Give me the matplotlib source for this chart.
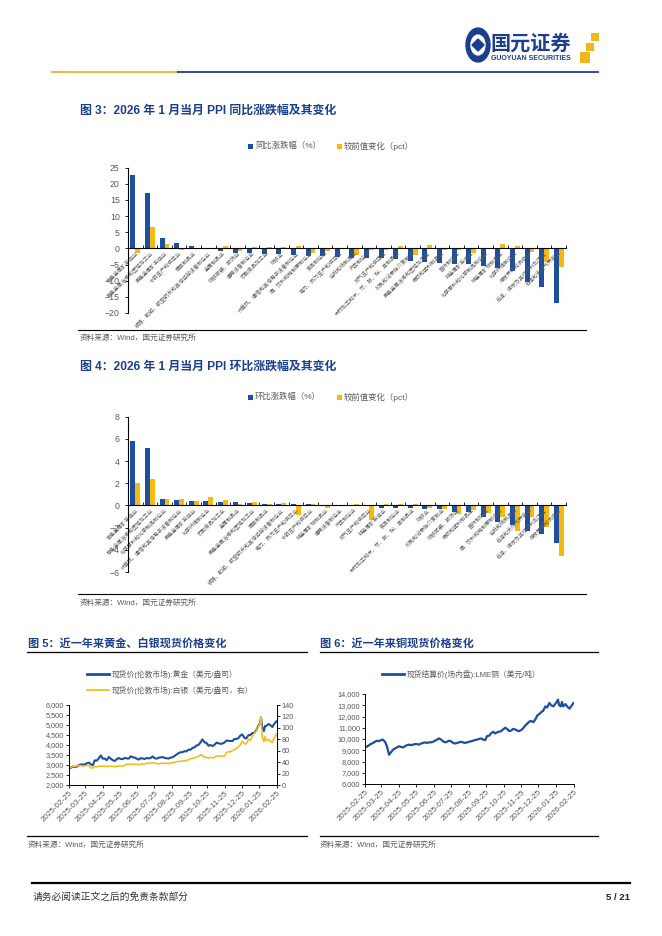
import numpy as np
import pandas as pd
import matplotlib
matplotlib.use('Agg')
import matplotlib.pyplot as plt
from matplotlib.patches import Rectangle, Circle, Polygon
from matplotlib.lines import Line2D
from matplotlib.ticker import FuncFormatter

plt.rcParams['font.family'] = ['Liberation Sans', 'Noto Sans CJK SC', 'DejaVu Sans']

# ---- fig 3: PPI yoy by industry, Jan 2026 ----
yoy_cats = ['有色金属矿采选业', '有色金属冶炼和压延加工业', '黑色金属矿采选业', '水的生产和供应业',
            '烟草制品业', '铁路、船舶、航空航天和其他运输设备制造业', '金属制品业', '纺织服装、服饰业',
            '通用设备制造业', '农副食品加工业', '纺织业', '计算机、通信和其他电子设备制造业',
            '酒、饮料和精制茶制造业', '食品制造业', '电力、热力生产和供应业', '造纸和纸制品业',
            '汽车制造业', '燃气生产和供应业', '木材加工和木、竹、藤、棕、草制品业', '印刷和记录媒介复制业',
            '黑色金属冶炼和压延加工业', '橡胶和塑料制品业', '医药制造业', '非金属矿采选业',
            '化学原料和化学制品制造业', '非金属矿物制品业', '化学纤维制造业', '煤炭开采和洗选业',
            '石油、煤炭及其他燃料加工业', '石油和天然气开采业']
yoy = [22.7, 17.2, 3.2, 1.6, 0.7, -0.3, -0.7, -1.5, -1.5, -1.8, -1.8, -1.9, -2.2, -2.5, -2.6,
       -2.9, -3.0, -3.1, -3.2, -3.9, -4.2, -4.4, -4.8, -4.9, -5.3, -6.0, -6.9, -10.3, -11.8, -17.0]
yoy_chg = [-1.4, 6.5, 1.3, -0.6, 0.0, 0.0, 0.6, -0.7, 0.3, 0.3, 0.3, 0.6, -1.4, -0.7, -0.3,
           -2.0, -0.6, -0.6, 0.6, -2.0, 1.0, -0.4, -0.5, -1.4, 0.0, 1.5, 0.6, -1.0, -4.1, -5.6]

# ---- fig 4: PPI mom by industry, Jan 2026 ----
mom_cats = ['有色金属矿采选业', '有色金属冶炼和压延加工业', '化学原料和化学制品制造业',
            '计算机、通信和其他电子设备制造业', '黑色金属矿采选业', '化学纤维制造业', '农副食品加工业',
            '金属制品业', '黑色金属冶炼和压延加工业', '烟草制品业', '铁路、船舶、航空航天和其他运输设备制造业',
            '电力、热力生产和供应业', '水的生产和供应业', '非金属矿物制品业', '通用设备制造业', '汽车制造业',
            '燃气生产和供应业', '非金属矿采选业', '食品制造业', '木材加工和木、竹、藤、棕、草制品业', '纺织业',
            '印刷和记录媒介复制业', '纺织服装、服饰业', '橡胶和塑料制品业', '医药制造业',
            '酒、饮料和精制茶制造业', '造纸和纸制品业', '石油和天然气开采业', '石油、煤炭及其他燃料加工业',
            '煤炭开采和洗选业']
mom = [5.8, 5.2, 0.6, 0.5, 0.4, 0.4, 0.3, 0.3, 0.2, 0.1, 0.1, 0.1, 0.1, 0.0, 0.0,
       0.0, 0.0, -0.2, -0.2, -0.2, -0.3, -0.3, -0.6, -0.6, -1.0, -1.5, -1.8, -2.3, -2.6, -3.4]
mom_chg = [2.0, 2.4, 0.6, 0.6, 0.4, 0.8, 0.5, 0.1, 0.3, 0.1, 0.2, -0.9, 0.1, -0.2, 0.0,
           0.1, -1.3, 0.1, 0.1, 0.1, -0.2, -0.3, -0.8, -0.4, -0.7, -1.0, -2.3, -1.0, -1.9, -4.6]

# ---- fig 5 / fig 6: spot prices, sampled twice a week ----
dates = [
    '2025-02-25', '2025-02-28',
    '2025-03-04', '2025-03-07', '2025-03-11', '2025-03-14', '2025-03-18', '2025-03-21', '2025-03-25', '2025-03-28',
    '2025-04-01', '2025-04-04', '2025-04-08', '2025-04-11', '2025-04-15', '2025-04-18', '2025-04-22', '2025-04-25', '2025-04-29',
    '2025-05-02', '2025-05-06', '2025-05-09', '2025-05-13', '2025-05-16', '2025-05-20', '2025-05-23', '2025-05-27', '2025-05-30',
    '2025-06-03', '2025-06-06', '2025-06-10', '2025-06-13', '2025-06-17', '2025-06-20', '2025-06-24', '2025-06-27',
    '2025-07-01', '2025-07-04', '2025-07-08', '2025-07-11', '2025-07-15', '2025-07-18', '2025-07-22', '2025-07-25', '2025-07-29',
    '2025-08-01', '2025-08-05', '2025-08-08', '2025-08-12', '2025-08-15', '2025-08-19', '2025-08-22', '2025-08-26', '2025-08-29',
    '2025-09-02', '2025-09-05', '2025-09-09', '2025-09-12', '2025-09-16', '2025-09-19', '2025-09-23', '2025-09-26', '2025-09-30',
    '2025-10-03', '2025-10-07', '2025-10-10', '2025-10-14', '2025-10-17', '2025-10-21', '2025-10-24', '2025-10-28', '2025-10-31',
    '2025-11-04', '2025-11-07', '2025-11-11', '2025-11-14', '2025-11-18', '2025-11-21', '2025-11-25', '2025-11-28',
    '2025-12-02', '2025-12-05', '2025-12-09', '2025-12-12', '2025-12-16', '2025-12-19', '2025-12-23', '2025-12-26', '2025-12-30',
    '2026-01-02', '2026-01-06', '2026-01-09', '2026-01-13', '2026-01-16', '2026-01-20', '2026-01-23', '2026-01-26', '2026-01-28', '2026-01-30',
    '2026-02-02', '2026-02-04', '2026-02-06', '2026-02-10', '2026-02-13', '2026-02-17', '2026-02-20', '2026-02-24']

gold = [2915, 2860,
        2915, 2905, 2920, 2985, 3030, 3020, 3020, 3085,
        3120, 3040, 2985, 3230, 3220, 3330, 3480, 3320, 3320,
        3240, 3400, 3320, 3240, 3200, 3290, 3350, 3300, 3290,
        3360, 3330, 3320, 3430, 3390, 3370, 3320, 3270,
        3340, 3330, 3300, 3350, 3330, 3350, 3430, 3340, 3320,
        3360, 3380, 3400, 3350, 3340, 3320, 3370, 3390, 3450,
        3530, 3590, 3640, 3640, 3690, 3680, 3770, 3760, 3860,
        3880, 3980, 4000, 4140, 4280, 4130, 4110, 3960, 4000,
        3950, 4000, 4120, 4090, 4060, 4070, 4130, 4220,
        4210, 4200, 4200, 4300, 4300, 4340, 4480, 4530, 4350,
        4330, 4490, 4500, 4600, 4600, 4750, 4950, 5080, 5380, 4900,
        4700, 4950, 4950, 5050, 5000, 4900, 5050, 5180]

silver = [31.8, 31.0,
          32.3, 32.6, 33.0, 33.9, 34.0, 33.0, 33.5, 34.4,
          34.0, 30.0, 29.8, 32.0, 32.3, 32.5, 33.0, 33.2, 33.0,
          32.0, 33.2, 32.7, 32.9, 32.3, 32.5, 33.4, 33.2, 33.0,
          34.5, 36.0, 36.5, 36.3, 36.5, 36.0, 35.8, 36.0,
          36.1, 36.9, 36.8, 38.1, 37.8, 38.2, 39.3, 38.0, 38.0,
          36.9, 37.8, 38.3, 37.7, 38.0, 37.4, 38.8, 38.7, 39.8,
          40.9, 41.2, 41.3, 42.3, 42.5, 43.0, 44.0, 46.0, 46.5,
          47.5, 48.5, 50.0, 52.5, 52.0, 48.0, 48.5, 47.0, 48.5,
          47.5, 48.3, 51.0, 50.5, 51.0, 50.0, 51.0, 56.0,
          58.5, 58.0, 60.5, 62.0, 64.0, 67.0, 70.5, 77.0, 72.0,
          72.0, 80.0, 78.0, 86.0, 90.0, 95.0, 102.0, 108.0, 119.0, 85.0,
          76.0, 85.0, 77.0, 80.0, 77.0, 74.0, 82.0, 89.0]

copper = [9350, 9300,
          9450, 9550, 9650, 9750, 9850, 9800, 9900, 9950,
          9750, 9400, 8600, 8800, 9050, 9150, 9250, 9350, 9300,
          9250, 9350, 9450, 9500, 9450, 9500, 9550, 9550, 9500,
          9600, 9650, 9700, 9650, 9700, 9700, 9750, 9850,
          9950, 10050, 9950, 9800, 9700, 9750, 9850, 9800, 9650,
          9600, 9650, 9700, 9750, 9700, 9650, 9700, 9750, 9800,
          9850, 9900, 9950, 10000, 10050, 9950, 9900, 10250, 10300,
          10500, 10650, 10500, 10600, 10650, 10700, 10850, 11000, 10900,
          10700, 10750, 10900, 10850, 10750, 10700, 10800, 10950,
          11200, 11350, 11550, 11600, 11500, 11700, 12100, 12200, 12400,
          12500, 12900, 12800, 13200, 13000, 12900, 13100, 13300, 13500, 13000,
          12900, 13300, 12900, 13100, 12900, 12700, 12900, 13200]

date_ticks = ['2025-02-25', '2025-03-25', '2025-04-25', '2025-05-25', '2025-06-25', '2025-07-25',
              '2025-08-25', '2025-09-25', '2025-10-25', '2025-11-25', '2025-12-25', '2026-01-25', '2026-02-25']

W, H = 662, 936
BLUE = '#1d4f9f'
YELLOW = '#f6b90c'
NAVY = '#1b3f8f'
GRAY = '#595959'

fig = plt.figure(figsize=(W / 100, H / 100), dpi=100)


def box(x0, y0, x1, y1):
    # pixel box (top-left origin) -> figure fraction
    return [x0 / W, 1 - y1 / H, (x1 - x0) / W, (y1 - y0) / H]


def txt(x, y, s, **kw):
    kw.setdefault('va', 'center')
    fig.text(x / W, 1 - y / H, s, **kw)


def hline(x0, x1, y, color='black', lw=0.8):
    fig.add_artist(Line2D([x0 / W, x1 / W], [1 - y / H, 1 - y / H], color=color, lw=lw))


def rect(x, y, w, h, color):
    fig.add_artist(Rectangle((x / W, 1 - (y + h) / H), w / W, h / H, color=color,
                             transform=fig.transFigure, lw=0))


# ---- header ----
hline(52, 178, 72, '#f0b323', 1.3)
hline(178, 598, 72, NAVY, 1.3)
fig.add_artist(Circle((478 / W, 1 - 45 / H), 12 / W, color=NAVY, transform=fig.transFigure))
fig.add_artist(Circle((478 / W, 1 - 45 / H), 7 / W, color='white', transform=fig.transFigure))
fig.add_artist(Polygon([(478 / W, 1 - 39 / H), (484 / W, 1 - 45 / H), (478 / W, 1 - 51 / H),
                        (472 / W, 1 - 45 / H)], color=NAVY, transform=fig.transFigure))
txt(490, 43, '国元证券', fontsize=14.5, fontweight='bold', color=NAVY, family=['Noto Sans CJK SC'])
txt(491, 58, 'GUOYUAN SECURITIES', fontsize=5, fontweight='bold', color=NAVY)
rect(591, 33, 8, 8, '#f2b51c')
rect(586, 43, 8, 8, '#f2b51c')
rect(580, 52, 10, 11, '#f2b51c')


def legend_box(x, y, label, color):
    rect(x, y - 2.5, 5, 5, color)
    txt(x + 7, y, label, fontsize=6, color=GRAY)


def bar_chart(px, cats, v1, v2, lo, hi, step):
    ax = fig.add_axes(box(*px))
    x = np.arange(len(cats))
    ax.bar(x - 0.17, v1, 0.34, color=BLUE, lw=0)
    ax.bar(x + 0.17, v2, 0.34, color=YELLOW, lw=0)
    ax.set_xlim(-0.5, len(cats) - 0.5)
    ax.set_ylim(lo, hi)
    ax.set_yticks(np.arange(lo, hi + 0.01, step))
    ax.spines['bottom'].set_position(('data', 0))
    ax.spines[['top', 'right']].set_visible(False)
    for s in ['left', 'bottom']:
        ax.spines[s].set_linewidth(0.8)
    ax.set_xticks(x)
    ax.set_xticklabels(cats, rotation=45, ha='right', va='top', rotation_mode='anchor',
                       fontsize=3.8, color=GRAY)
    ax.set_xticks(np.arange(-0.5, len(cats)), minor=True)
    ax.tick_params(axis='x', which='major', length=0, pad=1.5)
    ax.tick_params(axis='x', which='minor', length=2, width=0.6, direction='in')
    ax.tick_params(axis='y', labelsize=6.3, labelcolor=GRAY, length=2.5, width=0.6)
    ax.patch.set_alpha(0)
    return ax


# ---- fig 3 ----
txt(80, 111, '图 3：2026 年 1 月当月 PPI 同比涨跌幅及其变化', fontsize=8.6, fontweight='bold', color=NAVY)
legend_box(248, 146, '同比涨跌幅（%）', BLUE)
legend_box(337, 146, '较前值变化（pct）', YELLOW)
bar_chart((128, 167.7, 566, 313), yoy_cats, yoy, yoy_chg, -20, 25, 5)
hline(78, 586, 330, 'black', 0.8)
txt(80, 338, '资料来源：Wind，国元证券研究所', fontsize=5.5, color=GRAY)

# ---- fig 4 ----
txt(80, 367, '图 4：2026 年 1 月当月 PPI 环比涨跌幅及其变化', fontsize=8.6, fontweight='bold', color=NAVY)
legend_box(248, 397, '环比涨跌幅（%）', BLUE)
legend_box(337, 397, '较前值变化（pct）', YELLOW)
bar_chart((128, 416.7, 566, 572), mom_cats, mom, mom_chg, -6, 8, 2)
hline(78, 586, 594, 'black', 0.8)
txt(80, 603, '资料来源：Wind，国元证券研究所', fontsize=5.5, color=GRAY)

# ---- fig 5 / 6 shared bits ----
d = pd.to_datetime(dates)
ticks = pd.to_datetime(date_ticks)
thousands = FuncFormatter(lambda v, p: f'{v:,.0f}')


def date_axis(ax):
    ax.set_xlim(ticks[0], ticks[-1])
    ax.set_xticks(ticks)
    ax.set_xticklabels([t.strftime('%Y-%m-%d') for t in ticks], rotation=45, ha='right',
                       va='top', rotation_mode='anchor', fontsize=5.8, color=GRAY)
    ax.tick_params(axis='x', length=2, width=0.6, pad=1.5)


txt(28, 643, '图 5：近一年来黄金、白银现货价格变化', fontsize=8, fontweight='bold', color=NAVY)
hline(27, 307, 652, 'black', 0.9)
txt(320, 643, '图 6：近一年来铜现货价格变化', fontsize=8, fontweight='bold', color=NAVY)
hline(320, 598, 652, 'black', 0.9)

fig.add_artist(Line2D([87 / W, 109 / W], [1 - 674 / H] * 2, color=BLUE, lw=2))
txt(112, 674, '现货价(伦敦市场):黄金（美元/盎司）', fontsize=5.6, color=GRAY)
fig.add_artist(Line2D([87 / W, 109 / W], [1 - 690 / H] * 2, color=YELLOW, lw=1.2))
txt(112, 690, '现货价(伦敦市场):白银（美元/盎司，右）', fontsize=5.6, color=GRAY)

ax5 = fig.add_axes(box(69, 705, 277, 785))
ax5.plot(d, gold, color=BLUE, lw=1.5)
ax5.set_ylim(2000, 6000)
ax5.set_yticks(range(2000, 6001, 500))
ax5.yaxis.set_major_formatter(thousands)
ax5.tick_params(axis='y', labelsize=5.3, labelcolor=GRAY, length=2, width=0.6, pad=1.5)
date_axis(ax5)
ax5r = ax5.twinx()
ax5r.plot(d, silver, color=YELLOW, lw=1.1)
ax5r.set_ylim(0, 140)
ax5r.set_yticks(range(0, 141, 20))
ax5r.tick_params(axis='y', labelsize=5.3, labelcolor=GRAY, length=2, width=0.6, pad=1.5)
for a in (ax5, ax5r):
    a.spines['top'].set_visible(False)
    for s in ['left', 'right', 'bottom']:
        a.spines[s].set_linewidth(0.7)

fig.add_artist(Line2D([382 / W, 404 / W], [1 - 674 / H] * 2, color=BLUE, lw=2))
txt(407, 674, '现货结算价(场内盘):LME铜（美元/吨）', fontsize=5.6, color=GRAY)

ax6 = fig.add_axes(box(365, 694, 574, 784))
ax6.plot(d, copper, color=BLUE, lw=1.6)
ax6.set_ylim(6000, 14000)
ax6.set_yticks(range(6000, 14001, 1000))
ax6.yaxis.set_major_formatter(thousands)
ax6.tick_params(axis='y', labelsize=5.3, labelcolor=GRAY, length=2, width=0.6, pad=1.5)
date_axis(ax6)
ax6.spines[['top', 'right']].set_visible(False)
for s in ['left', 'bottom']:
    ax6.spines[s].set_linewidth(0.7)

hline(27, 307, 836, 'black', 0.9)
txt(28, 845, '资料来源：Wind，国元证券研究所', fontsize=5.5, color=GRAY)
hline(320, 598, 836, 'black', 0.9)
txt(320, 845, '资料来源：Wind，国元证券研究所', fontsize=5.5, color=GRAY)

# ---- footer ----
hline(32, 630, 883, 'black', 1.6)
txt(33, 897, '请务必阅读正文之后的免责条款部分', fontsize=7, color='#333333')
txt(630, 897, '5 / 21', fontsize=6.8, fontweight='bold', color='#222222', ha='right')

fig.savefig('out.png', dpi=100)
